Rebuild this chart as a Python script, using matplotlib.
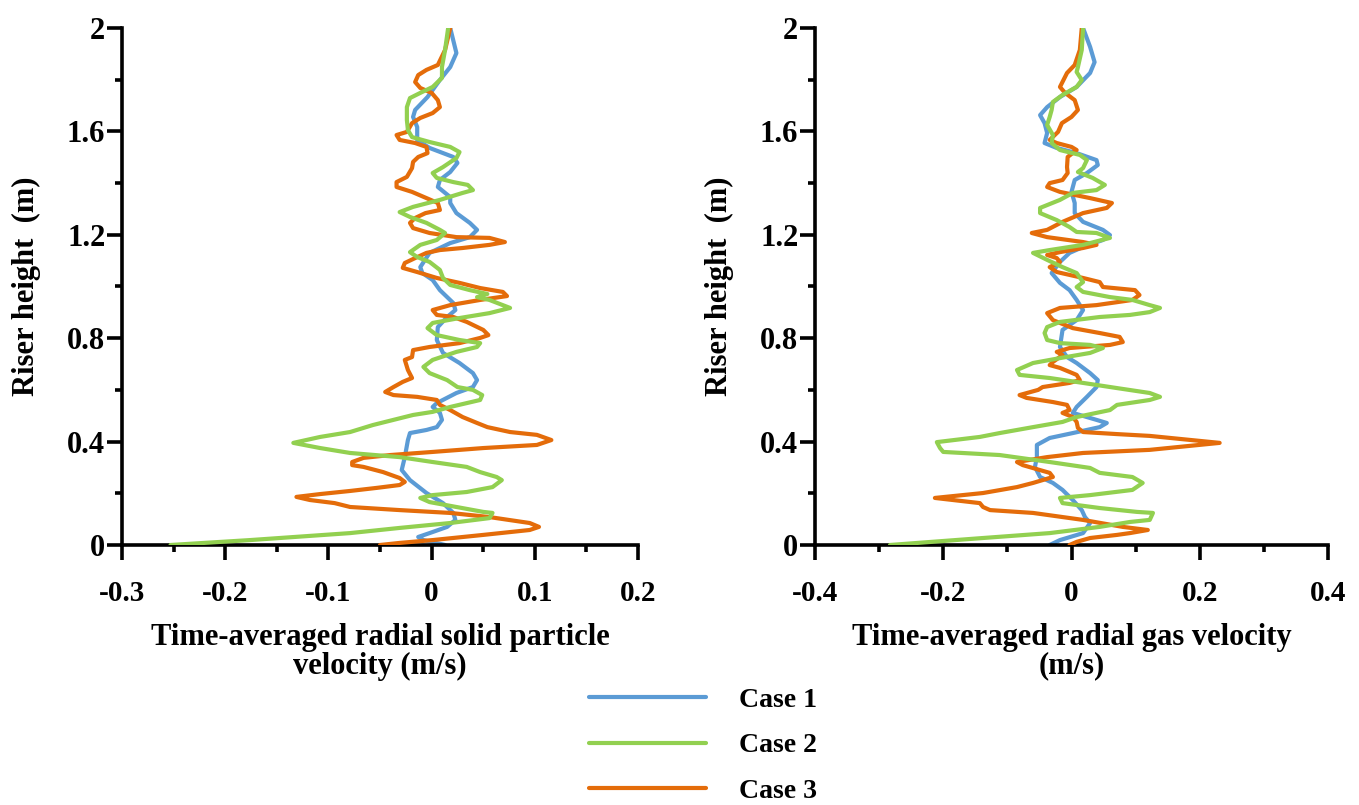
import matplotlib
matplotlib.use('Agg')
import matplotlib.pyplot as plt

plt.rcParams['font.family'] = ['Liberation Serif', 'DejaVu Serif']
plt.rcParams['font.weight'] = 'bold'
plt.rcParams['axes.unicode_minus'] = False

case_names = ['Case 1', 'Case 2', 'Case 3']
case_colors = ['#5B9BD5', '#92D050', '#E46C0A']

# left panel: radial solid particle velocity (m/s) vs riser height (m)
solid_h1 = [2.000, 1.903, 1.849, 1.799, 1.733, 1.683, 1.656, 1.617, 1.567, 1.536, 1.501, 1.478, 1.443,
            1.412, 1.385, 1.346, 1.323, 1.284, 1.246, 1.219, 1.191, 1.168, 1.130, 1.075, 1.052, 1.025,
            0.986, 0.936, 0.909, 0.882, 0.843, 0.793, 0.743, 0.704, 0.665, 0.638, 0.611, 0.588, 0.549,
            0.534, 0.511, 0.484, 0.456, 0.445, 0.433, 0.406, 0.340, 0.290, 0.251, 0.201, 0.162, 0.124,
            0.097, 0.070, 0.046, 0.031, 0.019, 0.000]
solid_v1 = [0.018, 0.024, 0.018, 0.008, -0.004, -0.016, -0.018, -0.014, -0.014, -0.002, 0.021, 0.025, 0.018,
            0.008, 0.006, 0.018, 0.018, 0.024, 0.037, 0.044, 0.037, 0.018, -0.002, -0.011, -0.009, 0.001,
            0.008, 0.021, 0.023, 0.015, 0.006, 0.005, 0.011, 0.027, 0.040, 0.044, 0.040, 0.024, 0.005,
            0.001, 0.008, 0.010, 0.005, -0.005, -0.021, -0.023, -0.026, -0.029, -0.021, -0.005, 0.011, 0.021,
            0.023, 0.015, -0.002, -0.013, -0.008, 0.013]

solid_h2 = [2.000, 1.915, 1.849, 1.807, 1.772, 1.749, 1.729, 1.694, 1.644, 1.605, 1.578, 1.559, 1.540,
            1.520, 1.497, 1.462, 1.439, 1.420, 1.404, 1.393, 1.373, 1.362, 1.335, 1.308, 1.288, 1.269,
            1.246, 1.219, 1.207, 1.180, 1.161, 1.133, 1.114, 1.095, 1.064, 1.033, 1.006, 0.986, 0.971,
            0.959, 0.948, 0.917, 0.897, 0.878, 0.859, 0.839, 0.812, 0.793, 0.781, 0.766, 0.747, 0.716,
            0.689, 0.665, 0.638, 0.611, 0.600, 0.580, 0.561, 0.534, 0.515, 0.503, 0.484, 0.464, 0.437,
            0.418, 0.395, 0.375, 0.356, 0.340, 0.321, 0.302, 0.282, 0.263, 0.251, 0.224, 0.205, 0.193,
            0.182, 0.166, 0.147, 0.128, 0.124, 0.104, 0.085, 0.066, 0.046, 0.019, 0.000]
solid_v2 = [0.016, 0.013, 0.010, 0.010, 0.001, -0.011, -0.021, -0.024, -0.024, -0.023, -0.019, -0.002, 0.018,
            0.027, 0.024, 0.011, 0.001, 0.005, 0.021, 0.035, 0.040, 0.030, 0.008, -0.018, -0.031, -0.021,
            -0.005, 0.008, 0.013, 0.005, -0.011, -0.021, -0.014, -0.002, 0.008, 0.011, 0.018, 0.037, 0.054,
            0.044, 0.056, 0.076, 0.056, 0.027, 0.001, -0.004, 0.005, 0.027, 0.047, 0.044, 0.024, 0.001,
            -0.008, -0.002, 0.015, 0.025, 0.040, 0.049, 0.047, 0.018, 0.001, -0.018, -0.037, -0.057, -0.079,
            -0.108, -0.134, -0.108, -0.079, -0.031, 0.001, 0.034, 0.047, 0.063, 0.068, 0.059, 0.034, 0.001,
            -0.011, -0.002, 0.024, 0.050, 0.059, 0.056, 0.018, -0.031, -0.079, -0.176, -0.253]

solid_h3 = [2.000, 1.915, 1.857, 1.838, 1.818, 1.791, 1.768, 1.749, 1.721, 1.694, 1.671, 1.652, 1.632,
            1.598, 1.586, 1.567, 1.555, 1.540, 1.516, 1.501, 1.482, 1.458, 1.424, 1.404, 1.385, 1.366,
            1.342, 1.323, 1.296, 1.284, 1.265, 1.246, 1.226, 1.207, 1.191, 1.188, 1.172, 1.161, 1.149,
            1.141, 1.130, 1.110, 1.091, 1.072, 1.056, 1.033, 1.014, 0.994, 0.979, 0.963, 0.948, 0.928,
            0.909, 0.890, 0.882, 0.863, 0.832, 0.812, 0.801, 0.781, 0.766, 0.754, 0.727, 0.716, 0.677,
            0.646, 0.631, 0.611, 0.592, 0.580, 0.573, 0.561, 0.542, 0.522, 0.495, 0.472, 0.456, 0.437,
            0.426, 0.406, 0.387, 0.375, 0.360, 0.348, 0.337, 0.321, 0.309, 0.302, 0.282, 0.259, 0.244,
            0.232, 0.221, 0.209, 0.197, 0.186, 0.174, 0.162, 0.147, 0.135, 0.124, 0.108, 0.085, 0.070,
            0.058, 0.039, 0.019, 0.008, 0.000]
solid_v3 = [0.018, 0.013, 0.006, -0.005, -0.013, -0.016, -0.011, 0.000, 0.006, 0.008, 0.001, -0.011, -0.019,
            -0.024, -0.034, -0.031, -0.016, -0.005, -0.004, -0.013, -0.018, -0.019, -0.024, -0.034, -0.034, -0.019,
            -0.005, 0.006, 0.008, -0.006, -0.016, -0.021, -0.018, -0.002, 0.024, 0.056, 0.071, 0.056, 0.030,
            0.008, -0.005, -0.016, -0.026, -0.028, -0.014, 0.005, 0.027, 0.047, 0.069, 0.073, 0.047, 0.018,
            0.001, 0.005, 0.021, 0.034, 0.050, 0.055, 0.047, 0.027, -0.002, -0.018, -0.019, -0.026, -0.023,
            -0.019, -0.028, -0.037, -0.045, -0.037, -0.014, 0.005, 0.008, 0.018, 0.030, 0.044, 0.054, 0.076,
            0.102, 0.116, 0.102, 0.050, 0.001, -0.040, -0.066, -0.077, -0.077, -0.066, -0.047, -0.031, -0.026,
            -0.031, -0.053, -0.079, -0.108, -0.131, -0.118, -0.094, -0.079, -0.031, 0.018, 0.056, 0.095, 0.104,
            0.095, 0.050, 0.001, -0.031, -0.050]

# right panel: radial gas velocity (m/s) vs riser height (m)
gas_h1 = [2.000, 1.927, 1.868, 1.826, 1.772, 1.733, 1.694, 1.663, 1.632, 1.594, 1.555, 1.536, 1.516,
          1.489, 1.470, 1.439, 1.412, 1.366, 1.323, 1.284, 1.250, 1.219, 1.199, 1.180, 1.153, 1.130,
          1.095, 1.052, 1.014, 0.986, 0.948, 0.909, 0.870, 0.832, 0.766, 0.727, 0.704, 0.665, 0.638,
          0.611, 0.573, 0.534, 0.511, 0.484, 0.472, 0.456, 0.433, 0.414, 0.387, 0.340, 0.302, 0.263,
          0.240, 0.213, 0.174, 0.135, 0.108, 0.085, 0.046, 0.019, 0.000]
gas_v1 = [0.018, 0.029, 0.036, 0.029, 0.008, -0.018, -0.038, -0.049, -0.042, -0.038, -0.042, -0.023, 0.008,
          0.039, 0.041, 0.024, 0.005, 0.000, 0.005, 0.005, 0.018, 0.049, 0.060, 0.049, 0.018, -0.003,
          -0.018, -0.031, -0.018, -0.003, 0.008, 0.018, 0.008, -0.014, -0.018, -0.007, 0.008, 0.029, 0.041,
          0.039, 0.024, 0.008, 0.002, 0.039, 0.055, 0.044, 0.002, -0.034, -0.054, -0.054, -0.057, -0.049,
          -0.029, -0.014, 0.002, 0.016, 0.021, 0.029, 0.018, -0.018, -0.034]

gas_h2 = [2.000, 1.915, 1.849, 1.830, 1.799, 1.772, 1.741, 1.714, 1.683, 1.656, 1.625, 1.586, 1.555,
          1.528, 1.509, 1.489, 1.458, 1.443, 1.420, 1.393, 1.373, 1.362, 1.335, 1.304, 1.284, 1.257,
          1.230, 1.211, 1.207, 1.188, 1.161, 1.141, 1.130, 1.103, 1.075, 1.052, 1.017, 0.998, 0.979,
          0.959, 0.948, 0.928, 0.917, 0.901, 0.890, 0.882, 0.863, 0.843, 0.820, 0.793, 0.781, 0.774,
          0.762, 0.743, 0.723, 0.704, 0.677, 0.658, 0.646, 0.627, 0.607, 0.588, 0.573, 0.561, 0.542,
          0.522, 0.495, 0.476, 0.456, 0.433, 0.418, 0.398, 0.375, 0.360, 0.348, 0.321, 0.298, 0.279,
          0.263, 0.240, 0.213, 0.193, 0.182, 0.162, 0.143, 0.128, 0.124, 0.097, 0.089, 0.070, 0.046,
          0.027, 0.000]
gas_v2 = [0.018, 0.016, 0.010, 0.008, 0.016, 0.008, -0.014, -0.029, -0.031, -0.034, -0.038, -0.029, -0.031,
          -0.018, 0.013, 0.024, 0.018, 0.010, 0.033, 0.052, 0.039, 0.002, -0.018, -0.049, -0.049, -0.023,
          -0.003, 0.008, 0.039, 0.060, 0.018, -0.034, -0.060, -0.038, -0.014, 0.008, 0.018, 0.008, 0.018,
          0.060, 0.095, 0.122, 0.138, 0.122, 0.091, 0.044, -0.018, -0.038, -0.042, -0.038, -0.018, 0.029,
          0.049, 0.029, -0.018, -0.060, -0.085, -0.081, -0.034, 0.018, 0.071, 0.122, 0.138, 0.122, 0.071,
          0.060, 0.008, -0.014, -0.060, -0.112, -0.143, -0.210, -0.205, -0.200, -0.112, -0.034, 0.029, 0.044,
          0.095, 0.111, 0.095, 0.029, -0.018, -0.014, 0.044, 0.102, 0.127, 0.122, 0.091, 0.044, -0.034,
          -0.138, -0.283]

gas_h3 = [2.000, 1.915, 1.857, 1.826, 1.772, 1.749, 1.721, 1.683, 1.656, 1.632, 1.598, 1.567, 1.555,
          1.540, 1.528, 1.501, 1.462, 1.439, 1.412, 1.400, 1.385, 1.366, 1.342, 1.323, 1.304, 1.284,
          1.250, 1.219, 1.207, 1.191, 1.172, 1.161, 1.149, 1.133, 1.122, 1.110, 1.095, 1.075, 1.056,
          1.033, 1.017, 0.998, 0.986, 0.967, 0.948, 0.928, 0.917, 0.897, 0.870, 0.839, 0.820, 0.805,
          0.785, 0.774, 0.762, 0.747, 0.735, 0.708, 0.696, 0.685, 0.658, 0.638, 0.627, 0.611, 0.600,
          0.580, 0.569, 0.553, 0.542, 0.522, 0.511, 0.495, 0.476, 0.453, 0.437, 0.429, 0.422, 0.395,
          0.368, 0.356, 0.340, 0.321, 0.309, 0.279, 0.263, 0.240, 0.224, 0.201, 0.182, 0.162, 0.147,
          0.135, 0.124, 0.097, 0.070, 0.058, 0.046, 0.039, 0.027, 0.012, 0.000]
gas_v3 = [0.016, 0.013, 0.005, -0.007, -0.018, -0.010, 0.005, 0.010, 0.000, -0.015, -0.021, -0.034, -0.023,
          0.000, 0.008, -0.006, -0.007, -0.006, -0.014, -0.034, -0.038, -0.018, 0.029, 0.063, 0.055, 0.018,
          -0.014, -0.038, -0.062, -0.038, 0.018, 0.039, 0.018, -0.018, -0.038, -0.023, -0.018, -0.034, -0.023,
          0.018, 0.044, 0.049, 0.099, 0.106, 0.095, 0.039, -0.018, -0.038, -0.029, 0.002, 0.044, 0.075,
          0.080, 0.060, -0.003, -0.023, -0.014, -0.029, -0.034, -0.018, 0.008, 0.013, -0.003, -0.045, -0.052,
          -0.081, -0.070, -0.029, -0.007, -0.003, -0.014, 0.002, 0.008, 0.010, 0.018, 0.071, 0.122, 0.231,
          0.122, 0.018, -0.038, -0.085, -0.076, -0.034, -0.029, -0.060, -0.085, -0.138, -0.213, -0.143, -0.138,
          -0.127, -0.060, 0.018, 0.080, 0.119, 0.091, 0.071, 0.029, 0.008, -0.003]

solid_xticks = [-0.3, -0.2, -0.1, 0, 0.1, 0.2]
gas_xticks = [-0.4, -0.2, 0, 0.2, 0.4]
yticks = [0, 0.4, 0.8, 1.2, 1.6, 2]

fig = plt.figure(figsize=(13.59, 8.05), dpi=100)
ax1 = fig.add_axes([0.0898, 0.3230, 0.3797, 0.6422])
ax2 = fig.add_axes([0.5997, 0.3230, 0.3775, 0.6422])

panels = [
    (ax1, [solid_v1, solid_v2, solid_v3], [solid_h1, solid_h2, solid_h3], solid_xticks, 0.05,
     'Time-averaged radial solid particle\nvelocity (m/s)'),
    (ax2, [gas_v1, gas_v2, gas_v3], [gas_h1, gas_h2, gas_h3], gas_xticks, 0.1,
     'Time-averaged radial gas velocity\n(m/s)'),
]
zorders = [2, 4, 3]

for ax, xs, ys, xt, minor_step, xlabel in panels:
    for i in range(3):
        ax.plot(xs[i], ys[i], color=case_colors[i], lw=3, label=case_names[i],
                zorder=zorders[i], solid_capstyle='round', solid_joinstyle='round')
    ax.set_xlim(xt[0], xt[-1])
    ax.set_ylim(0, 2)
    ax.set_xticks(xt, labels=['%g' % t for t in xt])
    ax.set_yticks(yticks, labels=['%g' % t for t in yticks])
    ax.xaxis.set_minor_locator(matplotlib.ticker.MultipleLocator(minor_step))
    ax.yaxis.set_minor_locator(matplotlib.ticker.MultipleLocator(0.2))
    for s in ['top', 'right']:
        ax.spines[s].set_visible(False)
    for s in ['left', 'bottom']:
        ax.spines[s].set_linewidth(2.6)
    ax.tick_params(which='major', length=11, width=2.6, direction='out')
    ax.tick_params(which='minor', length=5, width=2.6, direction='out')
    ax.tick_params(axis='x', which='major', pad=14, labelsize=21)
    ax.tick_params(axis='y', which='major', pad=1, labelsize=22)
    ax.set_xlabel(xlabel, fontsize=22, fontweight='bold', linespacing=1.0)
    ax.xaxis.set_label_coords(0.5, -0.15)
    ax.set_ylabel('Riser height  (m)', fontsize=22, fontweight='bold')
    ax.yaxis.set_label_coords(-0.158, 0.5)

handles, labels = ax1.get_legend_handles_labels()
fig.legend(handles, labels, loc='upper left', bbox_to_anchor=(0.4334, 0.146), frameon=False,
           fontsize=20, handlelength=4.2, handletextpad=1.2, labelspacing=0.72,
           borderpad=0, borderaxespad=0)

fig.savefig('out.png', dpi=100)
